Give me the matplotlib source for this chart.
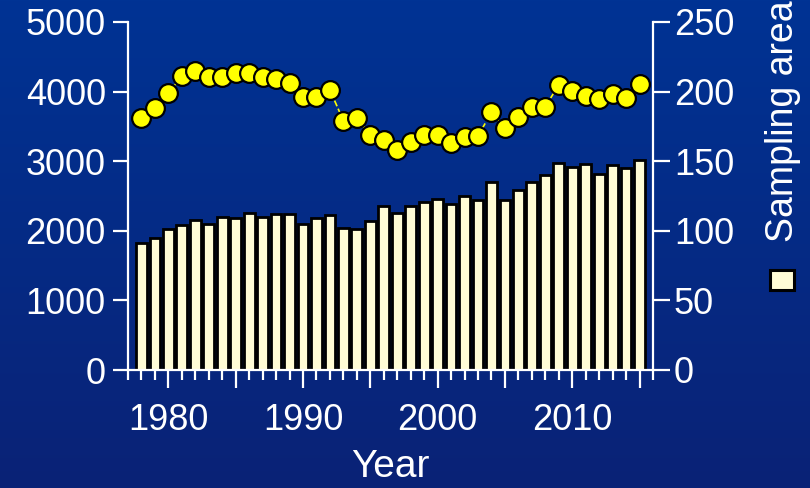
import numpy as np
import matplotlib.pyplot as plt
from matplotlib.ticker import MultipleLocator, FuncFormatter
from matplotlib.patches import Rectangle

plt.rcParams['font.family'] = ['Liberation Sans', 'DejaVu Sans']

years = list(range(1978, 2016))
# sampling area (right axis)
area = [91, 95, 101, 104, 108, 105, 110, 109, 113, 110, 112, 112, 105, 109, 111,
        102, 101, 107, 118, 113, 118, 121, 123, 119, 125, 122, 135, 122, 129, 135,
        140, 149, 146, 148, 141, 147, 145, 151]
# counts (left axis)
counts = [3620, 3760, 3980, 4220, 4290, 4215, 4215, 4270, 4265, 4215, 4180, 4120,
          3920, 3920, 4025, 3580, 3620, 3380, 3305, 3160, 3280, 3380, 3380, 3255,
          3345, 3365, 3700, 3475, 3640, 3775, 3785, 4095, 4015, 3930, 3890, 3965,
          3905, 4110]

bar_col = '#fffcd6'
fig = plt.figure(figsize=(8.1, 4.88), dpi=100)

# gradient background
bg = fig.add_axes([0, 0, 1, 1], zorder=-10)
top = np.array([0, 51, 148]) / 255
bot = np.array([10, 34, 118]) / 255
t = np.linspace(0, 1, 256)[:, None]
grad = top + (bot - top) * t
bg.imshow(grad[:, None, :].repeat(2, axis=1), aspect='auto', extent=[0, 1, 0, 1])
bg.axis('off')

ax = fig.add_axes([128/810, 118/488, 525/810, 348/488])
ax2 = ax.twinx()

ax2.bar(years, area, width=0.8, color=bar_col, edgecolor='black', linewidth=2)
ax.plot(years, counts, ls='--', c='yellow', lw=1.2, marker='o', ms=13.5,
        mfc='yellow', mec='black', mew=1.6)

ax.set_zorder(ax2.get_zorder() + 1)
ax.patch.set_visible(False)
ax2.patch.set_visible(False)

ax.set_xlim(1977, 2016)
ax.set_ylim(0, 5000)
ax2.set_ylim(0, 250)
ax.yaxis.set_major_locator(MultipleLocator(1000))
ax2.yaxis.set_major_locator(MultipleLocator(50))
ax.xaxis.set_major_locator(MultipleLocator(5))
ax.xaxis.set_minor_locator(MultipleLocator(1))
ax.xaxis.set_major_formatter(FuncFormatter(lambda v, p: '%d' % v if v % 10 == 0 else ''))

for a in (ax, ax2):
    for s in a.spines.values():
        s.set_color('white')
        s.set_linewidth(1.6)
    a.spines['top'].set_visible(False)
ax.spines['right'].set_visible(False)
ax2.spines['left'].set_visible(False)
ax2.spines['bottom'].set_visible(False)

ax.tick_params(axis='y', colors='white', labelsize=26, length=11, width=1.6, pad=5)
ax2.tick_params(axis='y', colors='white', labelsize=26, length=12, width=1.6, pad=3)
ax.tick_params(axis='x', which='major', colors='white', labelsize=26, length=13,
               width=1.6, pad=11)
ax.tick_params(axis='x', which='minor', colors='white', length=7, width=1.6)

ax.set_xlabel('Year', color='white', fontsize=28, labelpad=8)

fig.text(783/810, 1 - 242/488, 'Sampling area', rotation=90, color='white',
         fontsize=27, ha='center', va='bottom')
fig.patches.append(Rectangle((770/810, 1 - 290/488), 24/810, 20/488,
                             transform=fig.transFigure, facecolor=bar_col,
                             edgecolor='black', linewidth=2.2))

fig.savefig('out.png', dpi=100)
